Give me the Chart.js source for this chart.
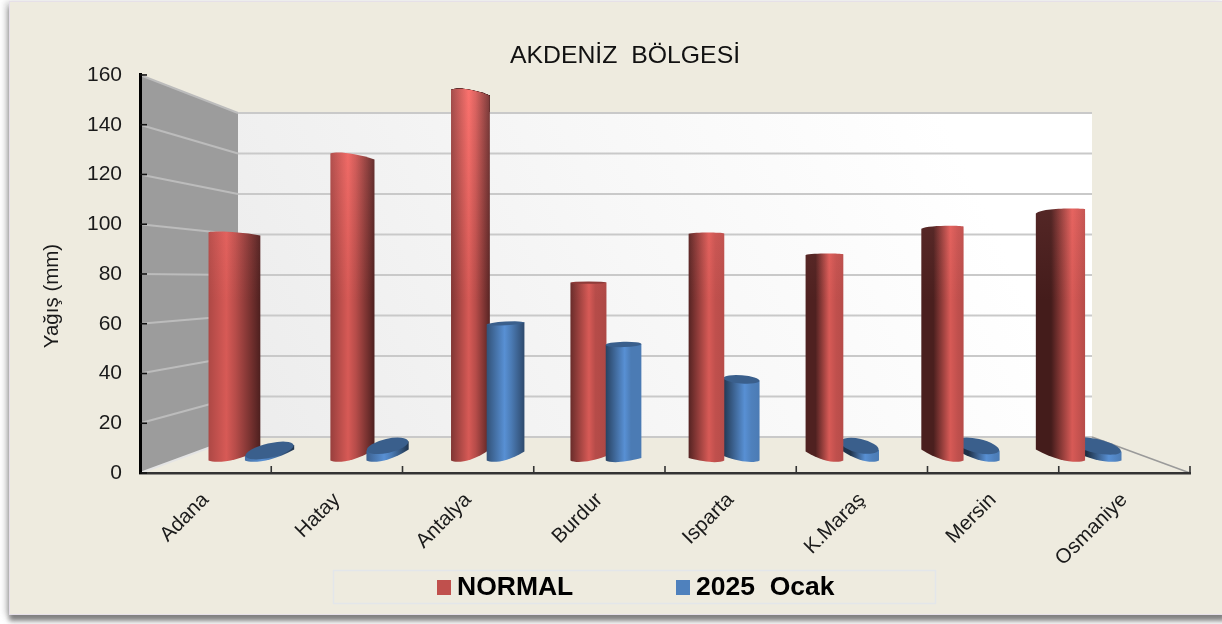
<!DOCTYPE html>
<html><head><meta charset="utf-8">
<script src="https://cdn.jsdelivr.net/npm/chart.js@4"></script>
<style>
html,body{margin:0;padding:0;background:#fff;width:1222px;height:624px;overflow:hidden}
#card{position:absolute;left:9px;top:1px;width:1217px;height:614px;background:#EEEBDF;border:1px solid #e6e0e8;box-sizing:border-box;box-shadow:0 6px 5px 0 rgba(100,100,100,.8),-4px 0 6px rgba(150,150,150,.35)}
canvas{position:absolute;left:0;top:0;filter:blur(.45px)}
</style></head><body>
<div id="card"></div>
<canvas id="c" width="1222" height="624"></canvas>
<script>
const categories = ['Adana','Hatay','Antalya','Burdur','Isparta','K.Maraş','Mersin','Osmaniye'];
const normalValues = [98.5,132.5,160,76.5,98,89,101,108.5];
const ocakValues = [4.5,6.5,59,50,35,6.5,6.5,6.5];
const seriesNames = ['NORMAL','2025  Ocak'];
const yTicks = [0,160,20];
const chartTitle = 'AKDENİZ  BÖLGESİ';
const yTitle = 'Yağış (mm)';

const FONT = '"Liberation Sans", Arial, sans-serif';
const VP = {x:665, y:280};
const RED = [192,80,77], BLUE = [79,129,189];
const WALL = {x:238, right:1092, top:113, bottom:437};
const clamp = (v,a,b)=>Math.max(a,Math.min(b,v));
const smooth = (a,b,x)=>{const t=clamp((x-a)/(b-a),0,1);return t*t*(3-2*t);};
const col = (c,f)=>`rgb(${c.map(v=>Math.min(255,Math.round(v*f))).join(',')})`;

function drawCylinder(ctx, el, base){
  const xc = el.x, y = el.y, yb = el.base + 1;
  const dx = xc - VP.x, d = dx/420, ad = Math.abs(d);
  const w = 35.5 + 0.000088*dx*dx;
  const l = xc - w/2, r = xc + w/2;
  const a = d>0 ? Math.min(11,24*ad)+1.5 : 1.5;
  const b = d<0 ? Math.min(11,24*ad)+1.5 : 1.5;
  const above = y < VP.y;
  const rot = above ? 0 : Math.sign(d)*13*Math.PI/180*Math.min(1,ad/.3)*(y-VP.y)/172;
  const ry = above ? 0 : Math.max(1.2,(y-VP.y)*0.042);
  const tilt = above ? -d*(VP.y-y)*0.065 : 0;
  const bulge = above ? 1.2+(VP.y-y)*0.012 : 0;
  ctx.save();
  ctx.beginPath();
  if(above){
    const yl = y+bulge*0.5+Math.max(0,-tilt), yr = y+bulge*0.5+Math.max(0,tilt);
    ctx.moveTo(l,yl);
    ctx.bezierCurveTo(l+w*.15,y-bulge*.25,tilt>0?l+w*.55:l+w*.9,y-bulge*.25+(tilt>0?tilt*.2:-tilt*.2),r,yr);
  } else {
    ctx.moveTo(l, y-Math.sin(rot)*w/2);
    ctx.lineTo(r, y+Math.sin(rot)*w/2);
  }
  ctx.lineTo(r,yb-b);
  const cp = d<0 ? [xc, l+w*.12] : d>0 ? [r-w*.12, xc] : [r-w*.2,l+w*.2];
  ctx.bezierCurveTo(cp[0],yb+1,cp[1],yb+1,l,yb-a);
  ctx.closePath();
  ctx.clip();

  const left = d<0 ? 0.47+0.43*Math.min(1,ad) : 0.45-0.1*ad;
  const right = 0.4+0.55*smooth(-.55,-.1,d);
  const peak = clamp(0.55+0.2*d,.3,.78);
  const g = ctx.createLinearGradient(l,0,r,0);
  g.addColorStop(0,col(base,left));
  if(d>.3) g.addColorStop(peak*.42,col(base,left));
  g.addColorStop(peak,col(base,1.12));
  g.addColorStop(Math.min(.97,peak+.18),col(base,d>0?1:.95));
  g.addColorStop(1,col(base,right));
  ctx.fillStyle = g;
  ctx.fillRect(l-1,y-20,w+2,yb-y+30);
  ctx.globalCompositeOperation = 'lighter';
  const v = ctx.createLinearGradient(0,90,0,300);
  const tint = base===RED ? '36,24,24' : '8,12,26';
  v.addColorStop(0,`rgba(${tint},1)`);
  v.addColorStop(1,`rgba(${tint},0)`);
  ctx.fillStyle = v;
  ctx.fillRect(l-1,y-20,w+2,yb-y+30);
  ctx.restore();

  if(!above){
    ctx.save();
    ctx.beginPath();
    ctx.ellipse(xc,y,w/2,ry,rot,0,Math.PI*2);
    ctx.fillStyle = col(base,0.74);
    ctx.fill();
    ctx.restore();
  }
}

const scene = {
  id:'scene',
  beforeDatasetDraw(){ return false; },
  afterLayout(chart){
    chart.titleBlock.left += 30; chart.titleBlock.right += 30;
  },
  beforeDraw(chart){
    const {ctx, scales:{y}, chartArea:ca} = chart;
    const fx = ca.left;
    const top = y.getPixelForValue(160), bot = y.getPixelForValue(0);
    const backY = v => WALL.bottom - v/160*(WALL.bottom-WALL.top);
    ctx.save();
    ctx.fillStyle = '#9c9c9c';
    ctx.beginPath();
    ctx.moveTo(fx,top);ctx.lineTo(WALL.x,WALL.top);ctx.lineTo(WALL.x,WALL.bottom);ctx.lineTo(fx,bot);ctx.closePath();ctx.fill();
    const g = ctx.createLinearGradient(WALL.x,WALL.bottom,WALL.right-150,WALL.top);
    g.addColorStop(0,'#ececec');g.addColorStop(.55,'#f7f7f7');g.addColorStop(1,'#ffffff');
    ctx.fillStyle = g;
    ctx.fillRect(WALL.x,WALL.top,WALL.right-WALL.x,WALL.bottom-WALL.top);
    y.ticks.forEach(t=>{
      const v=t.value, fy=y.getPixelForValue(v), by=backY(v);
      ctx.lineWidth=2;
      ctx.strokeStyle = v===0 ? '#e4e4e4' : '#bcbcbc';
      ctx.beginPath();ctx.moveTo(fx,fy);ctx.lineTo(WALL.x,by);ctx.stroke();
      ctx.strokeStyle = '#c9c9c9';
      ctx.beginPath();ctx.moveTo(WALL.x,by);ctx.lineTo(WALL.right,by);ctx.stroke();
    });
    ctx.strokeStyle='#9a9a9a';ctx.lineWidth=1.6;
    ctx.beginPath();ctx.moveTo(WALL.right,WALL.bottom);ctx.lineTo(ca.right,bot);ctx.stroke();
    ctx.strokeStyle='#e3e6ea';ctx.lineWidth=1.5;
    ctx.strokeRect(333.5,570.5,602,33);
    ctx.restore();
  },
  afterDatasetsDraw(chart){
    const {ctx} = chart;
    const a = chart.getDatasetMeta(0).data, b = chart.getDatasetMeta(1).data;
    a.forEach((el,i)=>{
      if(i<4){ drawCylinder(ctx,el,RED); drawCylinder(ctx,b[i],BLUE); }
      else   { drawCylinder(ctx,b[i],BLUE); drawCylinder(ctx,el,RED); }
    });
  },
  afterDraw(chart){
    const {ctx, scales:{x,y}, chartArea:ca} = chart;
    ctx.save();
    ctx.strokeStyle='#111';ctx.lineWidth=1.6;
    y.ticks.forEach(t=>{const p=y.getPixelForValue(t.value);ctx.beginPath();ctx.moveTo(ca.left,p);ctx.lineTo(ca.left+7,p);ctx.stroke();});
    ctx.strokeStyle='#333';
    const step=(ca.right-ca.left)/categories.length;
    for(let i=1;i<=categories.length;i++){const p=ca.left+i*step;ctx.beginPath();ctx.moveTo(p,ca.bottom);ctx.lineTo(p,ca.bottom-7);ctx.stroke();}
    ctx.fillStyle='#1a1a1a';ctx.font=`20.5px ${FONT}`;ctx.textAlign='center';ctx.textBaseline='middle';
    ctx.save();ctx.translate(52,296);ctx.rotate(-Math.PI/2);ctx.fillText(yTitle,0,0);ctx.restore();
    ctx.textAlign='left';ctx.font=`bold 26.5px ${FONT}`;
    const items=[{x:437,c:RED},{x:676,c:BLUE}];
    items.forEach((it,i)=>{
      ctx.fillStyle=col(it.c,1);ctx.fillRect(it.x,580,14,15);
      ctx.fillStyle='#000';ctx.fillText(chart.data.datasets[i].label,it.x+20,588);
    });
    ctx.restore();
  }
};

new Chart(document.getElementById('c'),{
  type:'bar',
  data:{
    labels:categories,
    datasets:[
      {label:seriesNames[0],data:normalValues.map((v,i)=>({x:i,y:v})),backgroundColor:col(RED,1),xAxisID:'xBars',yAxisID:'yBars',categoryPercentage:.627,barPercentage:1},
      {label:seriesNames[1],data:ocakValues.map((v,i)=>({x:i,y:v})),backgroundColor:col(BLUE,1),xAxisID:'xBars',yAxisID:'yBars',categoryPercentage:.627,barPercentage:1}
    ]
  },
  plugins:[scene],
  options:{
    responsive:false,
    animation:false,
    devicePixelRatio:1,
    layout:{padding:{left:0,right:32,top:0,bottom:0}},
    plugins:{
      legend:{display:false},
      tooltip:{enabled:false},
      title:{display:true,text:chartTitle,color:'#111',font:{family:FONT,size:24.8,weight:'normal',lineHeight:1.2},padding:{top:41,bottom:4.2}}
    },
    scales:{
      x:{type:'category',labels:categories,position:'bottom',offset:true,
        afterFit(s){s.height=151;},
        grid:{display:false,drawTicks:false},
        border:{display:true,color:'#333',width:2.5},
        ticks:{autoSkip:false,minRotation:45,maxRotation:45,padding:15,color:'#1a1a1a',font:{family:FONT,size:20.5}}},
      y:{type:'linear',position:'left',min:yTicks[0],max:yTicks[1],
        afterFit(s){s.width=140;},
        grid:{display:false,drawTicks:false},
        border:{display:true,color:'#000',width:3},
        ticks:{stepSize:yTicks[2],padding:18,color:'#1a1a1a',font:{family:FONT,size:21}}},
      xBars:{type:'linear',display:false,axis:'x',offset:false,min:-0.949,max:7.949,grid:{display:false}},
      yBars:{type:'linear',display:false,axis:'y',min:-5.15,max:165.57,grid:{display:false}}
    }
  }
});
</script>
</body></html>
